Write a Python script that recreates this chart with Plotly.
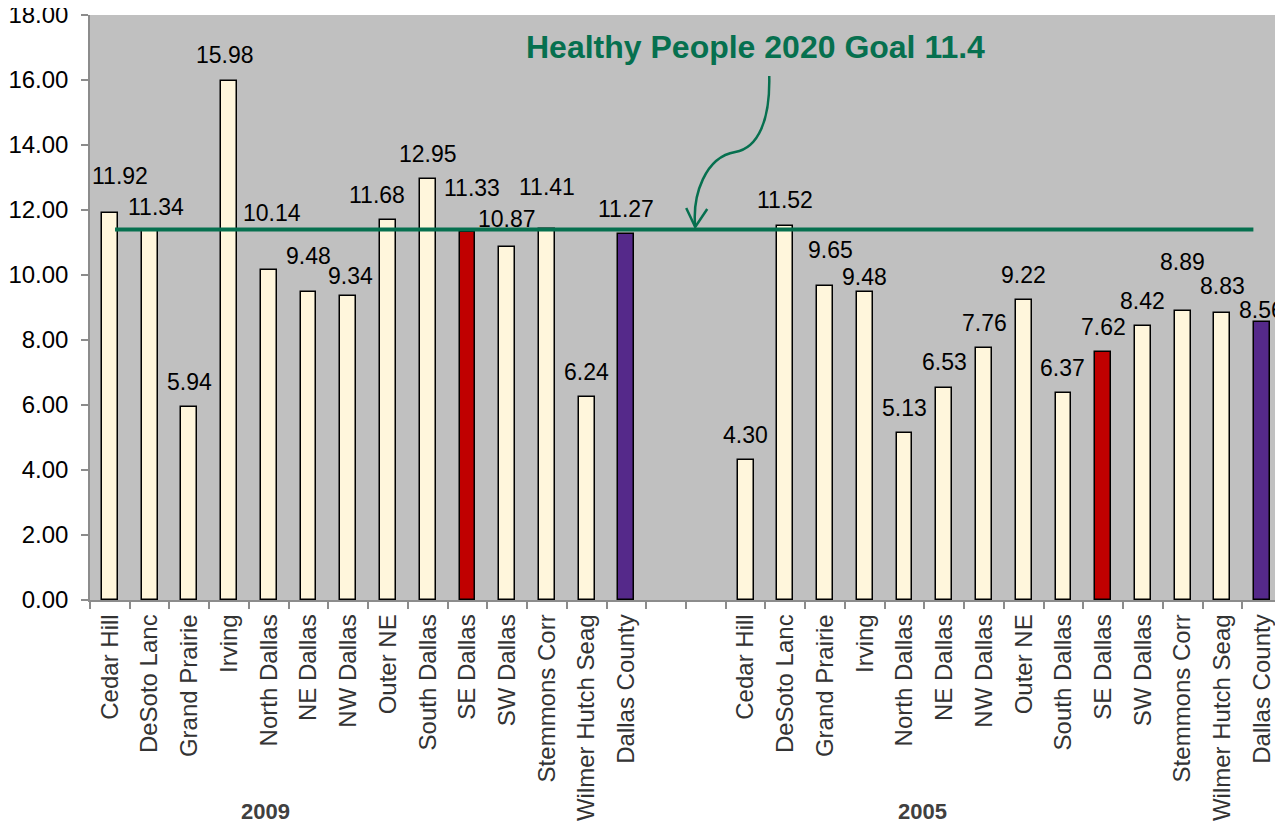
import plotly.graph_objects as go

# districts shown in each year group
districts = ["Cedar Hill", "DeSoto Lanc", "Grand Prairie", "Irving", "North Dallas",
             "NE Dallas", "NW Dallas", "Outer NE", "South Dallas", "SE Dallas",
             "SW Dallas", "Stemmons Corr", "Wilmer Hutch Seag", "Dallas County"]
rates_2009 = [11.92, 11.34, 5.94, 15.98, 10.14, 9.48, 9.34, 11.68, 12.95, 11.33,
              10.87, 11.41, 6.24, 11.27]
rates_2005 = [4.30, 11.52, 9.65, 9.48, 5.13, 6.53, 7.76, 9.22, 6.37, 7.62,
              8.42, 8.89, 8.83, 8.56]
goal = 11.4
goal_text = "Healthy People 2020 Goal 11.4"
years = ["2009", "2005"]

# manual label nudges (pixels, + = right / up) as placed in the original chart
dx_2009 = [10, 6, 0, -4, 3, 0, 2, -11, 0, 5, 0, 0, 0, 0]
dy_2009 = [37, 24, 25, 26, 57, 36, 20, 25, 25, 44, 28, 42, 25, 25]
dx_2005 = [0, 0, 5, 0, 0, 0, 0, 0, -1, 0, 0, 0, 0, -1]
dy_2005 = [25, 26, 36, 15, 25, 26, 25, 25, 25, 25, 25, 49, 27, 12]

FONT = "Liberation Sans, Arial, sans-serif"
CREAM, RED, PURPLE = "#FFF6DC", "#C00000", "#55298A"
GREEN = "#06704F"

pos_2009 = list(range(14))
pos_2005 = list(range(16, 30))


def bar_colors(names):
    return [RED if n == "SE Dallas" else PURPLE if n == "Dallas County" else CREAM
            for n in names]


fig = go.Figure()
for pos, vals in [(pos_2009, rates_2009), (pos_2005, rates_2005)]:
    fig.add_trace(go.Bar(
        x=pos, y=vals, width=0.4,
        marker=dict(color=bar_colors(districts), line=dict(color="black", width=1.5)),
        showlegend=False, hoverinfo="skip",
    ))

# value labels
for pos, vals, dxs, dys in [(pos_2009, rates_2009, dx_2009, dy_2009),
                            (pos_2005, rates_2005, dx_2005, dy_2005)]:
    for p, v, dx, dy in zip(pos, vals, dxs, dys):
        fig.add_annotation(x=p, y=v, text=f"{v:.2f}", showarrow=False,
                           xanchor="center", yanchor="middle", xshift=dx, yshift=dy,
                           font=dict(family=FONT, size=23, color="black"))

# goal line
fig.add_shape(type="line", xref="x", yref="y", x0=0.13, x1=28.78, y0=goal, y1=goal,
              line=dict(color=GREEN, width=4))

# pixel (page) -> data helper for the hand-drawn arrow
def to_data(px, py):
    return (px - 109.7) / 39.73, (600 - py) / 32.5


def fmt(pts):
    return " ".join(f"{x:.3f},{y:.3f}" for x, y in (to_data(*p) for p in pts))


curve = ("M " + fmt([(769, 76)]) + " C " + fmt([(770, 120), (758, 148), (735, 152)])
         + " C " + fmt([(705, 157), (692, 195), (695, 227)]))
head = "M " + fmt([(686, 208)]) + " L " + fmt([(695, 227)]) + " L " + fmt([(707, 209)])
for path in (curve, head):
    fig.add_shape(type="path", xref="x", yref="y", path=path,
                  line=dict(color=GREEN, width=2.5))

gx, gy = to_data(755, 47)
fig.add_annotation(x=gx, y=gy, text=f"<b>{goal_text}</b>", showarrow=False,
                   xanchor="center", yanchor="middle",
                   font=dict(family=FONT, size=32, color=GREEN))

# year group labels
for yr, xc in zip(years, [3.91, 20.46]):
    fig.add_annotation(x=xc, xref="x", y=-0.362, yref="paper", text=f"<b>{yr}</b>",
                       showarrow=False, xanchor="center", yanchor="middle",
                       font=dict(family=FONT, size=22, color="#404040"))

# page body has an 8px margin, so the figure is sized to the remaining area
fig.update_layout(
    width=1275, height=817,
    margin=dict(l=82, r=1, t=7, b=225),
    paper_bgcolor="white", plot_bgcolor="#C0C0C0",
    font=dict(family=FONT, size=23, color="black"),
    bargap=0,
)
fig.update_xaxes(
    range=[-0.5, 29.5], tickmode="array", automargin=False,
    tickvals=pos_2009 + pos_2005, ticktext=districts + districts,
    tickangle=-90, ticks="", showgrid=False, zeroline=False,
    showline=True, linecolor="#8C8C8C", linewidth=1.5,
    ticklabelstandoff=3,
    tickfont=dict(family=FONT, size=24, color="#333333"),
    minor=dict(tickmode="array", tickvals=[i - 0.5 for i in range(31)],
               ticks="outside", ticklen=7, tickcolor="#8C8C8C", tickwidth=1.5,
               showgrid=False),
)
fig.update_yaxes(
    range=[0, 18], dtick=2, tickformat=".2f", ticks="outside", ticklen=7,
    tickcolor="#8C8C8C", tickwidth=1.5, showgrid=False, zeroline=False,
    showline=True, linecolor="#8C8C8C", linewidth=1.5, automargin=False,
    ticklabeloverflow="allow", ticklabelstandoff=8,
    tickfont=dict(family=FONT, size=24, color="black"),
)

fig.write_html("out.html")
